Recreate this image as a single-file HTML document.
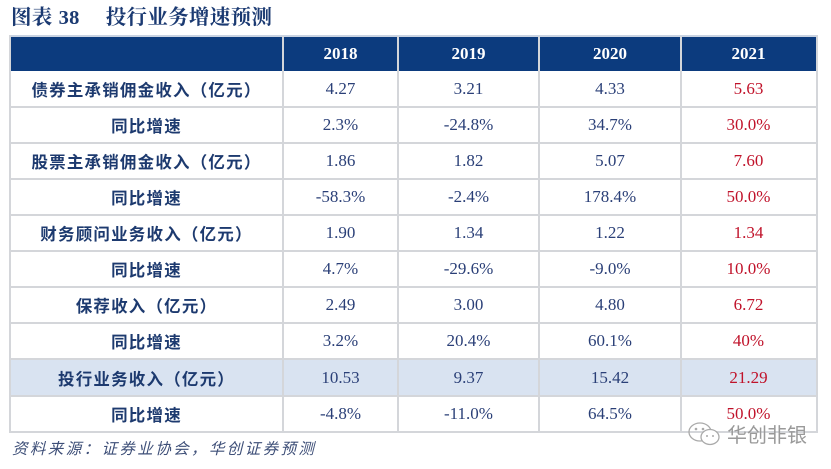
<!DOCTYPE html>
<html><head><meta charset="utf-8">
<style>
html,body{margin:0;padding:0;background:#fff;}
body{width:831px;height:469px;position:relative;overflow:hidden;font-family:"Liberation Serif","Noto Serif CJK SC",serif;}
.title{position:absolute;left:11px;top:5px;font-size:20.5px;font-weight:bold;color:#1b3a72;white-space:nowrap;font-family:"Liberation Serif","Noto Serif CJK SC",serif;line-height:26px;letter-spacing:0.3px;}
.title .n{font-family:"Liberation Serif",serif;margin-left:6px;margin-right:26px;}
.hdr{position:absolute;left:10px;top:36px;width:806px;height:35px;background:#0c3b7e;}
.row{position:absolute;left:10px;width:806px;}
.hl{background:#d9e3f1;}
.cell{position:absolute;top:0;height:100%;display:flex;align-items:center;justify-content:center;white-space:nowrap;}
.lab{font-family:"Noto Sans CJK SC","WenQuanYi Zen Hei",sans-serif;font-weight:bold;font-size:16.5px;letter-spacing:1.2px;color:#1d3a6f;}
.num{font-family:"Liberation Serif",serif;font-size:17px;color:#2a3f77;}
.red{color:#c0122a;}
.hd{font-family:"Liberation Serif",serif;font-weight:bold;font-size:17px;color:#fff;}
.vl{position:absolute;width:2px;background:#d4d6da;}
.hlne{position:absolute;height:2px;background:#d4d6da;}
.foot{position:absolute;left:12px;top:437px;font-size:15.5px;font-style:italic;letter-spacing:2.4px;color:#3e4f78;font-family:"Noto Sans CJK SC","WenQuanYi Zen Hei",sans-serif;white-space:nowrap;line-height:22px;}
.wm{position:absolute;left:727px;top:421px;font-size:20px;color:#9a9a9a;font-family:"Noto Sans CJK SC",sans-serif;letter-spacing:0px;line-height:26px;}
</style></head><body>
<div class="title">图表<span class="n">38</span>投行业务增速预测</div>

<div class="hdr">
  <div class="cell hd" style="left:273px;width:115px;">2018</div>
  <div class="cell hd" style="left:388px;width:141px;">2019</div>
  <div class="cell hd" style="left:529px;width:142px;">2020</div>
  <div class="cell hd" style="left:671px;width:135px;">2021</div>
</div>

<div class="row" style="top:71px;height:36px;">
  <div class="cell lab" style="left:0;width:273px;">债券主承销佣金收入（亿元）</div>
  <div class="cell num" style="left:273px;width:115px;">4.27</div>
  <div class="cell num" style="left:388px;width:141px;">3.21</div>
  <div class="cell num" style="left:529px;width:142px;">4.33</div>
  <div class="cell num red" style="left:671px;width:135px;">5.63</div>
</div>
<div class="row" style="top:107px;height:36px;">
  <div class="cell lab" style="left:0;width:273px;">同比增速</div>
  <div class="cell num" style="left:273px;width:115px;">2.3%</div>
  <div class="cell num" style="left:388px;width:141px;">-24.8%</div>
  <div class="cell num" style="left:529px;width:142px;">34.7%</div>
  <div class="cell num red" style="left:671px;width:135px;">30.0%</div>
</div>
<div class="row" style="top:143px;height:36px;">
  <div class="cell lab" style="left:0;width:273px;">股票主承销佣金收入（亿元）</div>
  <div class="cell num" style="left:273px;width:115px;">1.86</div>
  <div class="cell num" style="left:388px;width:141px;">1.82</div>
  <div class="cell num" style="left:529px;width:142px;">5.07</div>
  <div class="cell num red" style="left:671px;width:135px;">7.60</div>
</div>
<div class="row" style="top:179px;height:36px;">
  <div class="cell lab" style="left:0;width:273px;">同比增速</div>
  <div class="cell num" style="left:273px;width:115px;">-58.3%</div>
  <div class="cell num" style="left:388px;width:141px;">-2.4%</div>
  <div class="cell num" style="left:529px;width:142px;">178.4%</div>
  <div class="cell num red" style="left:671px;width:135px;">50.0%</div>
</div>
<div class="row" style="top:215px;height:36px;">
  <div class="cell lab" style="left:0;width:273px;">财务顾问业务收入（亿元）</div>
  <div class="cell num" style="left:273px;width:115px;">1.90</div>
  <div class="cell num" style="left:388px;width:141px;">1.34</div>
  <div class="cell num" style="left:529px;width:142px;">1.22</div>
  <div class="cell num red" style="left:671px;width:135px;">1.34</div>
</div>
<div class="row" style="top:251px;height:36px;">
  <div class="cell lab" style="left:0;width:273px;">同比增速</div>
  <div class="cell num" style="left:273px;width:115px;">4.7%</div>
  <div class="cell num" style="left:388px;width:141px;">-29.6%</div>
  <div class="cell num" style="left:529px;width:142px;">-9.0%</div>
  <div class="cell num red" style="left:671px;width:135px;">10.0%</div>
</div>
<div class="row" style="top:287px;height:36px;">
  <div class="cell lab" style="left:0;width:273px;">保荐收入（亿元）</div>
  <div class="cell num" style="left:273px;width:115px;">2.49</div>
  <div class="cell num" style="left:388px;width:141px;">3.00</div>
  <div class="cell num" style="left:529px;width:142px;">4.80</div>
  <div class="cell num red" style="left:671px;width:135px;">6.72</div>
</div>
<div class="row" style="top:323px;height:36px;">
  <div class="cell lab" style="left:0;width:273px;">同比增速</div>
  <div class="cell num" style="left:273px;width:115px;">3.2%</div>
  <div class="cell num" style="left:388px;width:141px;">20.4%</div>
  <div class="cell num" style="left:529px;width:142px;">60.1%</div>
  <div class="cell num red" style="left:671px;width:135px;">40%</div>
</div>
<div class="row hl" style="top:359px;height:37px;">
  <div class="cell lab" style="left:0;width:273px;">投行业务收入（亿元）</div>
  <div class="cell num" style="left:273px;width:115px;">10.53</div>
  <div class="cell num" style="left:388px;width:141px;">9.37</div>
  <div class="cell num" style="left:529px;width:142px;">15.42</div>
  <div class="cell num red" style="left:671px;width:135px;">21.29</div>
</div>
<div class="row" style="top:396px;height:36px;">
  <div class="cell lab" style="left:0;width:273px;">同比增速</div>
  <div class="cell num" style="left:273px;width:115px;">-4.8%</div>
  <div class="cell num" style="left:388px;width:141px;">-11.0%</div>
  <div class="cell num" style="left:529px;width:142px;">64.5%</div>
  <div class="cell num red" style="left:671px;width:135px;">50.0%</div>
</div>

<div class="hlne" style="left:9px;top:35px;width:809px;background:#c9d3e2;"></div>
<div class="hlne" style="left:9px;top:106px;width:809px;"></div>
<div class="hlne" style="left:9px;top:142px;width:809px;"></div>
<div class="hlne" style="left:9px;top:178px;width:809px;"></div>
<div class="hlne" style="left:9px;top:214px;width:809px;"></div>
<div class="hlne" style="left:9px;top:250px;width:809px;"></div>
<div class="hlne" style="left:9px;top:286px;width:809px;"></div>
<div class="hlne" style="left:9px;top:322px;width:809px;"></div>
<div class="hlne" style="left:9px;top:358px;width:809px;"></div>
<div class="hlne" style="left:9px;top:395px;width:809px;"></div>
<div class="hlne" style="left:9px;top:431px;width:809px;"></div>

<div class="vl" style="left:9px;top:35px;height:398px;"></div>
<div class="vl" style="left:282px;top:36px;height:397px;"></div>
<div class="vl" style="left:397px;top:36px;height:397px;"></div>
<div class="vl" style="left:538px;top:36px;height:397px;"></div>
<div class="vl" style="left:680px;top:36px;height:397px;"></div>
<div class="vl" style="left:816px;top:35px;height:398px;"></div>

<div class="foot">资料来源：证券业协会，华创证券预测</div>

<svg style="position:absolute;left:686px;top:420px;" width="40" height="28" viewBox="0 0 40 28">
  <ellipse cx="14" cy="12" rx="11" ry="9" fill="none" stroke="#aaa" stroke-width="1.3"/>
  <ellipse cx="24" cy="17" rx="9" ry="7.5" fill="#fff" stroke="#aaa" stroke-width="1.3"/>
  <circle cx="10" cy="9" r="1.3" fill="#aaa"/><circle cx="17" cy="9" r="1.3" fill="#aaa"/>
  <circle cx="21" cy="16" r="1" fill="#aaa"/><circle cx="27" cy="16" r="1" fill="#aaa"/>
</svg>
<div class="wm">华创非银</div>
</body></html>
